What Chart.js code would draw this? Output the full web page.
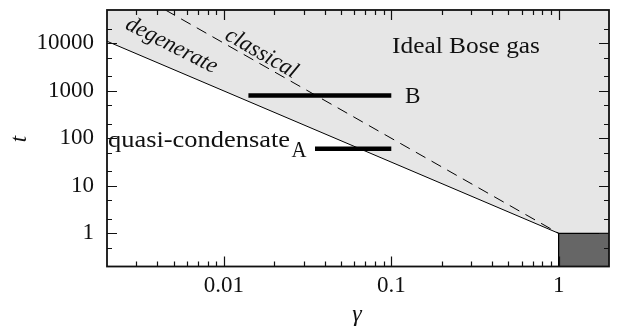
<!DOCTYPE html>
<html><head><meta charset="utf-8">
<script src="https://cdn.jsdelivr.net/npm/chart.js@4/dist/chart.umd.min.js"></script>
<style>html,body{margin:0;padding:0;background:#fff}canvas{display:block}</style>
</head><body>
<canvas id="c" width="619" height="329"></canvas>
<script>
// ---- data ----
const xRange = [0.002, 2];
const yRange = [0.2, 50000];
const xTickValues = [0.01, 0.1, 1];
const yTickValues = [1, 10, 100, 1000, 10000];
const degenerateLine = [{x:0.002, y:11000}, {x:1, y:1}];
const classicalLine = [{x:0.00447, y:50000}, {x:1, y:1}];
const shadedBoundary = [{x:0.002, y:11000}, {x:1, y:1}, {x:2, y:1}];
const condensateBox = [{x:1, y:0.2}, {x:1, y:1}, {x:2, y:1}];
const barA = [{x:0.035, y:60}, {x:0.1, y:60}];
const barB = [{x:0.014, y:790}, {x:0.1, y:790}];

const FONT = '"Liberation Serif", "Times New Roman", serif';
const INK = '#111111';

function drawLabel(ctx, text, x, y, o) {
  ctx.save();
  ctx.font = (o.italic ? 'italic ' : '') + (o.size || 23) + 'px ' + FONT;
  ctx.fillStyle = INK;
  ctx.translate(x, y);
  ctx.rotate((o.angle || 0) * Math.PI / 180);
  const w = ctx.measureText(text).width;
  const sx = o.width ? o.width / w : 1;
  ctx.scale(sx, 1);
  ctx.textAlign = o.align || 'left';
  ctx.textBaseline = o.baseline || 'alphabetic';
  ctx.fillText(text, 0, 0);
  ctx.restore();
}

const framePlugin = {
  id: 'frame',
  afterDatasetsDraw(chart) {
    const ctx = chart.ctx, a = chart.chartArea;
    const xs = chart.scales.x, ys = chart.scales.y;
    ctx.save();
    ctx.strokeStyle = INK;
    ctx.lineWidth = 1.2;
    for (let n = -3; n <= 0; n++) {
      for (let k = 1; k <= 9; k++) {
        const v = k * Math.pow(10, n);
        if (v <= xRange[0] * 1.0001 || v >= xRange[1] * 0.9999) continue;
        const px = Math.round(xs.getPixelForValue(v)) + 0.5;
        const len = k === 1 ? 10 : 5;
        ctx.beginPath();
        ctx.moveTo(px, a.bottom); ctx.lineTo(px, a.bottom - len);
        ctx.moveTo(px, a.top); ctx.lineTo(px, a.top + len);
        ctx.stroke();
      }
    }
    for (let n = -1; n <= 4; n++) {
      for (const k of [1, 2, 5]) {
        const v = k * Math.pow(10, n);
        if (v <= yRange[0] * 1.0001 || v >= yRange[1] * 0.9999) continue;
        const py = Math.round(ys.getPixelForValue(v)) + 0.5;
        const len = k === 1 ? 10 : 5;
        ctx.beginPath();
        ctx.moveTo(a.left, py); ctx.lineTo(a.left + len, py);
        ctx.moveTo(a.right, py); ctx.lineTo(a.right - len, py);
        ctx.stroke();
      }
    }
    ctx.lineWidth = 1.8;
    ctx.strokeRect(a.left, a.top, a.right - a.left, a.bottom - a.top);
    ctx.restore();
  },
  afterDraw(chart) {
    const ctx = chart.ctx;
    drawLabel(ctx, 'Ideal Bose gas', 392, 53, {width: 148});
    drawLabel(ctx, 'quasi-condensate', 108, 146.5, {width: 182});
    drawLabel(ctx, 'A', 291.5, 156.5, {width: 15});
    drawLabel(ctx, 'B', 405, 102.7, {width: 15.5});
    drawLabel(ctx, 'degenerate', 171.5, 45.5, {italic: true, angle: 27, align: 'center', baseline: 'middle', width: 100});
    drawLabel(ctx, 'classical', 261.5, 53.5, {italic: true, angle: 30, align: 'center', baseline: 'middle', width: 80});
    drawLabel(ctx, 't', 20, 139, {italic: true, angle: -90, align: 'center', baseline: 'middle'});
    drawLabel(ctx, 'γ', 357, 315, {italic: true, align: 'center', baseline: 'middle', size: 24});
  }
};

new Chart(document.getElementById('c'), {
  type: 'scatter',
  data: {
    datasets: [
      {data: barB, showLine: true, borderColor: '#000', borderWidth: 4.5, pointRadius: 0, order: 1, borderCapStyle: 'butt'},
      {data: barA, showLine: true, borderColor: '#000', borderWidth: 4.5, pointRadius: 0, order: 2, borderCapStyle: 'butt'},
      {data: degenerateLine, showLine: true, borderColor: '#000', borderWidth: 1, pointRadius: 0, order: 3},
      {data: classicalLine, showLine: true, borderColor: '#000', borderWidth: 1, borderDash: [11, 7], pointRadius: 0, order: 4},
      {data: condensateBox, showLine: true, borderColor: '#000', borderWidth: 1.3, backgroundColor: '#666666', fill: 'start', pointRadius: 0, order: 5},
      {data: shadedBoundary, showLine: true, borderWidth: 0, borderColor: 'rgba(0,0,0,0)', backgroundColor: '#e6e6e6', fill: 'end', pointRadius: 0, order: 6}
    ]
  },
  options: {
    responsive: false,
    animation: false,
    devicePixelRatio: 1,
    layout: {padding: {top: 10, right: 10, left: 0, bottom: 0}},
    plugins: {legend: {display: false}, tooltip: {enabled: false}},
    events: [],
    scales: {
      x: {
        type: 'logarithmic', min: xRange[0], max: xRange[1],
        grid: {display: false, drawTicks: false},
        border: {display: false},
        afterBuildTicks: s => { s.ticks = xTickValues.map(v => ({value: v})); },
        afterFit: s => { s.height = 62.5; s.paddingLeft = 0; s.paddingRight = 0; },
        ticks: {padding: 6, color: INK, font: {family: FONT, size: 23}, maxRotation: 0, autoSkip: false,
                callback: v => String(v)}
      },
      y: {
        type: 'logarithmic', min: yRange[0], max: yRange[1],
        grid: {display: false, drawTicks: false},
        border: {display: false},
        afterBuildTicks: s => { s.ticks = yTickValues.map(v => ({value: v})); },
        afterFit: s => { s.width = 107; s.paddingTop = 0; s.paddingBottom = 0; },
        ticks: {padding: 13, color: INK, font: {family: FONT, size: 23}, autoSkip: false,
                callback: v => String(v)}
      }
    }
  },
  plugins: [framePlugin]
});
</script>
</body></html>
